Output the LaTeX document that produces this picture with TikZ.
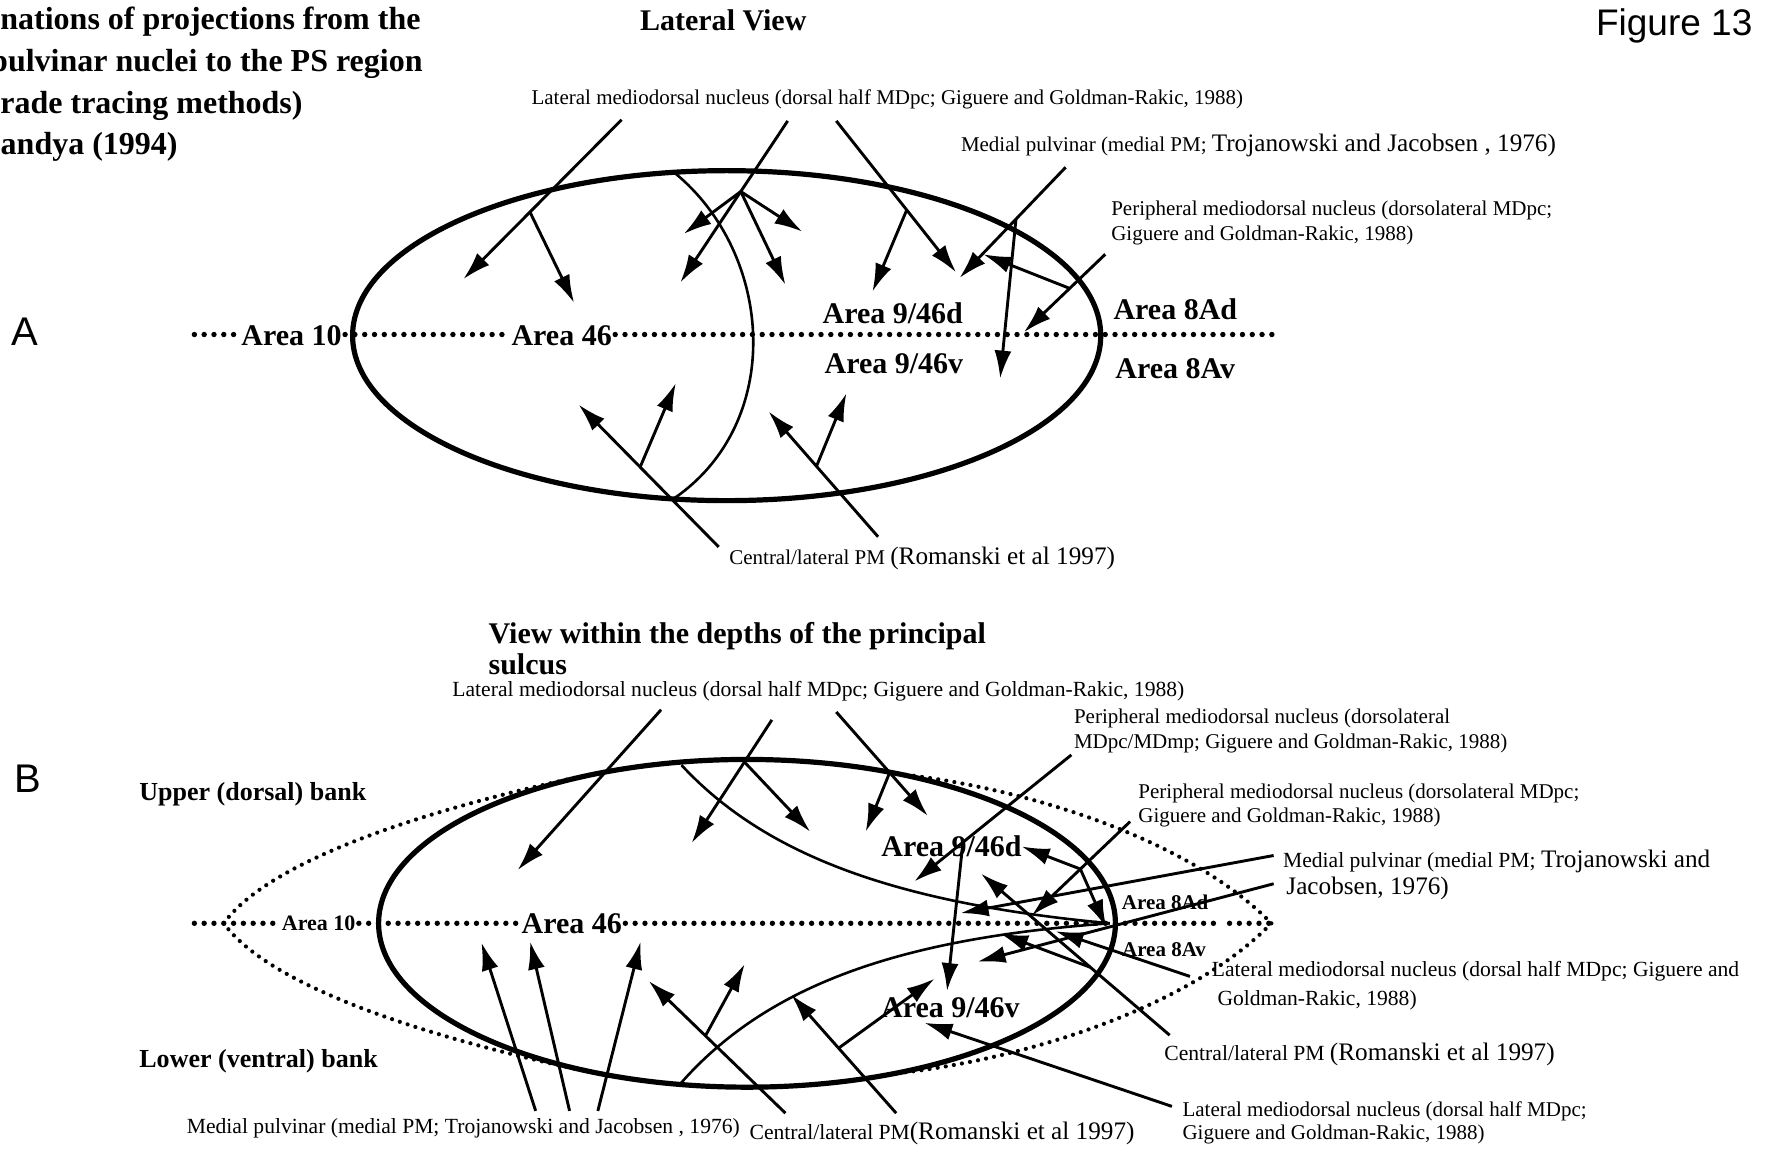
\documentclass[tikz,border=0pt]{standalone}
\usepackage{fontspec}
\setmainfont{Liberation Serif}
\newfontfamily\figsans{Liberation Sans}
\usetikzlibrary{arrows.meta,calc}

\begin{document}
\begin{tikzpicture}[x=0.565pt,y=-0.565pt,
  lab/.style={anchor=west,inner sep=0pt,font=\fontsize{10.5}{12}\selectfont},
  labB/.style={anchor=west,inner sep=0pt,font=\fontsize{10.8}{12}\selectfont},
  ttl/.style={anchor=base west,inner sep=0pt,font=\bfseries\fontsize{16}{19}\selectfont},
  head/.style={anchor=base west,inner sep=0pt,font=\bfseries\fontsize{15}{18}\selectfont},
  area/.style={inner sep=1.5pt,font=\bfseries\fontsize{15}{18}\selectfont},
  smallarea/.style={inner sep=1.5pt,font=\bfseries\fontsize{10.5}{12}\selectfont},
  panel/.style={anchor=base,inner sep=0pt,font=\figsans\fontsize{20}{24}\selectfont},
  bigoval/.style={line width=2.6pt},
  thincurve/.style={line width=1.3pt},
  arr/.style={line width=1.45pt,-{Latex[length=14pt,width=8.5pt]}},
  dotline/.style={line width=2.7pt,line cap=round,dash pattern=on 0pt off 4.9pt},
  lensdot/.style={line width=2.1pt,line cap=round,dash pattern=on 0pt off 4.1pt}]

\newcommand{\bigger}{\fontsize{12.6}{14}\selectfont}

\useasboundingbox (0,0) rectangle (1568,1017);
\fill[white] (0,0) rectangle (1568,1017);
\clip (0,0) rectangle (1568,1017);

% ---------------- headings ----------------
\node[ttl] (t1) at (0,26) {nations of projections from the};
\node[ttl] (t2) at (-9,63) {pulvinar nuclei to the PS region};
\node[ttl] (t3) at (0,100) {rade tracing methods)};
\node[ttl] (t4) at (-17,137) {Pandya (1994)};
\node[head,anchor=base] (hA) at (640,27) {Lateral View};
\node[anchor=base east,inner sep=0pt,font=\figsans\fontsize{18.5}{22}\selectfont] (fig) at (1551,31) {Figure 13};
\node[panel] (pA) at (22,306) {A};
\node[panel] (pB) at (25,701) {B};

% ================= Panel A =================
\draw[bigoval] (643,297) ellipse [x radius=331, y radius=146];
\coordinate (icAtop) at (597,153);
\coordinate (icAbot) at (595,442);
\draw[thincurve] (icAtop) .. controls (685,225) and (695,375) .. (icAbot);

\node[area] (a10A) at (258,297) {Area 10};
\node[area] (a46A) at (497,297) {Area 46};
\node[area] (a946d) at (790,277) {Area 9/46d};
\node[area] (a946v) at (791,322) {Area 9/46v};
\node[area] (a8Ad) at (1040,274) {Area 8Ad};
\node[area] (a8Av) at (1040,326) {Area 8Av};
\coordinate (dAl) at (172,296);
\coordinate (dAr) at (1127,296);
\draw[dotline] (dAl) -- (a10A.west |- dAl);
\draw[dotline] (a10A.east |- dAl) -- (a46A.west |- dAl);
\draw[dotline] (a46A.east |- dAl) -- (dAr);

% labels
\node[lab] (lmdA) at (470,88) {Lateral mediodorsal nucleus (dorsal half MDpc; Giguere and Goldman-Rakic, 1988)};
\node[lab] (mpA) at (850,129) {Medial pulvinar (medial PM; {\bigger Trojanowski and Jacobsen , 1976)}};
\node[lab] (pmdA1) at (983,186) {Peripheral mediodorsal nucleus (dorsolateral MDpc;};
\node[lab] (pmdA2) at (983,208) {Giguere and Goldman-Rakic, 1988)};
\node[lab] (clA) at (645,494) {Central/lateral PM {\bigger (Romanski et al 1997)}};

% projections from the lateral mediodorsal nucleus
\coordinate (a1s) at (550,106); \coordinate (a1t) at (410,247);
\coordinate (a1b) at ($(a1s)!0.579!(a1t)$); \coordinate (a1u) at (508,268);
\draw[arr] (a1s) -- (a1t);
\draw[arr] (a1b) -- (a1u);
\coordinate (a2s) at (697,107); \coordinate (a2t) at (602,250);
\coordinate (a2b) at ($(a2s)!0.437!(a2t)$);
\coordinate (a2u) at (605,207); \coordinate (a2v) at (710,205); \coordinate (a2w) at (695,252);
\draw[arr] (a2s) -- (a2t);
\draw[arr] (a2b) -- (a2u);
\draw[arr] (a2b) -- (a2v);
\draw[arr] (a2b) -- (a2w);
\coordinate (a3s) at (740,107); \coordinate (a3t) at (846,241);
\coordinate (a3b) at ($(a3s)!0.588!(a3t)$); \coordinate (a3u) at (772,258);
\draw[arr] (a3s) -- (a3t);
\draw[arr] (a3b) -- (a3u);
% medial pulvinar
\coordinate (a4s) at (943,148); \coordinate (a4t) at (849,246);
\coordinate (a4b) at ($(a4s)!0.468!(a4t)$); \coordinate (a4u) at (885,335);
\draw[arr] (a4s) -- (a4t);
\draw[arr] (a4b) -- (a4u);
% peripheral mediodorsal nucleus
\coordinate (a5s) at (978,225); \coordinate (a5t) at (906,294);
\coordinate (a5b) at ($(a5s)!0.4375!(a5t)$); \coordinate (a5u) at (870,225);
\draw[arr] (a5s) -- (a5t);
\draw[arr] (a5b) -- (a5u);
% central/lateral PM
\coordinate (c1s) at (636,484); \coordinate (c1t) at (512,358);
\coordinate (c1b) at ($(c1s)!0.561!(c1t)$); \coordinate (c1u) at (598,339);
\draw[arr] (c1s) -- (c1t);
\draw[arr] (c1b) -- (c1u);
\coordinate (c2s) at (777,475); \coordinate (c2t) at (680,364);
\coordinate (c2b) at ($(c2s)!0.562!(c2t)$); \coordinate (c2u) at (749,348);
\draw[arr] (c2s) -- (c2t);
\draw[arr] (c2b) -- (c2u);

% ================= Panel B =================
\node[head] (hB1) at (432,569) {View within the depths of the principal};
\node[head] (hB2) at (432,597) {sulcus};
\node[anchor=west,inner sep=0pt,font=\bfseries\fontsize{13}{15}\selectfont] (upB) at (123,703) {Upper (dorsal) bank};
\node[anchor=west,inner sep=0pt,font=\bfseries\fontsize{13}{15}\selectfont] (loB) at (123,939) {Lower (ventral) bank};

% outer dotted lens
\coordinate (lensL) at (198,817);
\coordinate (lensR) at (1125,817);
\draw[lensdot] (lensL) .. controls (245,752) and (420,707) .. (515,687);
\draw[lensdot] (787,684) .. controls (900,695) and (1050,740) .. (lensR);
\draw[lensdot] (lensR) .. controls (1050,894) and (900,939) .. (790,950);
\draw[lensdot] (515,947) .. controls (420,927) and (245,882) .. (lensL);

\draw[bigoval] (661,817) ellipse [x radius=326, y radius=145];
\coordinate (icBu) at (603,677);
\coordinate (icBl) at (602,959);
\coordinate (icBr) at (982,817);
\draw[thincurve] (icBu) .. controls (680,760) and (800,800) .. (icBr);
\draw[thincurve] (icBl) .. controls (680,870) and (800,830) .. (icBr);

\node[smallarea,font=\bfseries\fontsize{11}{13}\selectfont] (a10B) at (282,817) {Area 10};
\node[area] (a46B) at (506,817) {Area 46};
\node[area] (a946dB) at (842,749) {Area 9/46d};
\node[area] (a946vB) at (841,892) {Area 9/46v};
\node[smallarea] (a8AdB) at (1031,798) {Area 8Ad};
\node[smallarea] (a8AvB) at (1030,840) {Area 8Av};
\coordinate (dBl) at (172,817);
\coordinate (dBg1) at (1076,817);
\coordinate (dBg2) at (1088,817);
\coordinate (dBr) at (1127,817);
\draw[dotline] (dBl) -- (a10B.west |- dBl);
\draw[dotline] (a10B.east |- dBl) -- (a46B.west |- dBl);
\draw[dotline] (a46B.east |- dBl) -- (dBg1);
\draw[dotline] (dBg2) -- (dBr);

% labels
\node[labB] (lmdB) at (400,612) {Lateral mediodorsal nucleus (dorsal half MDpc; Giguere and Goldman-Rakic, 1988)};
\node[lab] (pmdB1a) at (950,636) {Peripheral mediodorsal nucleus (dorsolateral};
\node[lab] (pmdB1b) at (950,658) {MDpc/MDmp; Giguere and Goldman-Rakic, 1988)};
\node[lab] (pmdB2a) at (1007,702) {Peripheral mediodorsal nucleus (dorsolateral MDpc;};
\node[lab] (pmdB2b) at (1007,723) {Giguere and Goldman-Rakic, 1988)};
\node[labB] (mpB1) at (1135,762) {Medial pulvinar (medial PM; {\bigger Trojanowski and}};
\node[labB,font=\bigger] (mpB2) at (1138,786) {Jacobsen, 1976)};
\node[labB] (lmdB2a) at (1072,859) {Lateral mediodorsal nucleus (dorsal half MDpc; Giguere and};
\node[labB] (lmdB2b) at (1077,885) {Goldman-Rakic, 1988)};
\node[labB] (clB1) at (1030,933) {Central/lateral PM {\bigger (Romanski et al 1997)}};
\node[lab] (lmdB3a) at (1046,983) {Lateral mediodorsal nucleus (dorsal half MDpc;};
\node[lab] (lmdB3b) at (1046,1004) {Giguere and Goldman-Rakic, 1988)};
\node[labB] (mpB3) at (165,998) {Medial pulvinar (medial PM; Trojanowski and Jacobsen , 1976)};
\node[labB] (clB2) at (663,1003) {Central/lateral PM{\bigger (Romanski et al 1997)}};

% projections from the lateral mediodorsal nucleus (top)
\coordinate (b1s) at (585,628); \coordinate (b1t) at (458,770);
\draw[arr] (b1s) -- (b1t);
\coordinate (b2s) at (683,637); \coordinate (b2t) at (612,746);
\coordinate (b2b) at ($(b2s)!0.342!(b2t)$); \coordinate (b2u) at (717,736);
\draw[arr] (b2s) -- (b2t);
\draw[arr] (b2b) -- (b2u);
\coordinate (b3s) at (740,630); \coordinate (b3t) at (821,722);
\coordinate (b3b) at ($(b3s)!0.583!(b3t)$); \coordinate (b3u) at (766,736);
\draw[arr] (b3s) -- (b3t);
\draw[arr] (b3b) -- (b3u);
% peripheral mediodorsal nucleus (MDpc/MDmp)
\coordinate (b4s) at (948,668); \coordinate (b4t) at (809,780);
\coordinate (b4b) at ($(b4s)!0.69!(b4t)$); \coordinate (b4u) at (838,877);
\draw[arr] (b4s) -- (b4t);
\draw[arr] (b4b) -- (b4u);
% peripheral mediodorsal nucleus (MDpc)
\coordinate (b5s) at (1000,727); \coordinate (b5t) at (913,810);
\coordinate (b5b) at ($(b5s)!0.506!(b5t)$);
\coordinate (b5u) at (904,749); \coordinate (b5v) at (979,821);
\draw[arr] (b5s) -- (b5t);
\draw[arr] (b5b) -- (b5u);
\draw[arr] (b5b) -- (b5v);
% medial pulvinar (right)
\coordinate (b6s) at (1127,757); \coordinate (b6t) at (850,808);
\draw[arr] (b6s) -- (b6t);
\coordinate (b7s) at (1127,782); \coordinate (b7t) at (865,851);
\draw[arr] (b7s) -- (b7t);
% lateral mediodorsal nucleus (right)
\coordinate (b8s) at (1053,864); \coordinate (b8t) at (934,824);
\draw[arr] (b8s) -- (b8t);
% central/lateral PM (right)
\coordinate (b9s) at (1035,916); \coordinate (b9t) at (868,773);
\coordinate (b9b) at ($(b9s)!0.42!(b9t)$); \coordinate (b9u) at (885,826);
\draw[arr] (b9s) -- (b9t);
\draw[arr] (b9b) -- (b9u);
% lateral mediodorsal nucleus (lower right)
\coordinate (b10s) at (1037,979); \coordinate (b10t) at (818,905);
\draw[arr] (b10s) -- (b10t);
% medial pulvinar (bottom)
\coordinate (m1s) at (474,983); \coordinate (m1t) at (426,834);
\coordinate (m2s) at (504,983); \coordinate (m2t) at (469,833);
\coordinate (m3s) at (529,983); \coordinate (m3t) at (567,833);
\draw[arr] (m1s) -- (m1t);
\draw[arr] (m2s) -- (m2t);
\draw[arr] (m3s) -- (m3t);
% central/lateral PM (bottom)
\coordinate (cb1s) at (695,985); \coordinate (cb1t) at (574,868);
\coordinate (cb1b) at ($(cb1s)!0.585!(cb1t)$); \coordinate (cb1u) at (659,853);
\draw[arr] (cb1s) -- (cb1t);
\draw[arr] (cb1b) -- (cb1u);
\coordinate (cb2s) at (793,985); \coordinate (cb2t) at (700,880);
\coordinate (cb2b) at ($(cb2s)!0.548!(cb2t)$); \coordinate (cb2u) at (827,866);
\draw[arr] (cb2s) -- (cb2t);
\draw[arr] (cb2b) -- (cb2u);

\end{tikzpicture}
\end{document}
